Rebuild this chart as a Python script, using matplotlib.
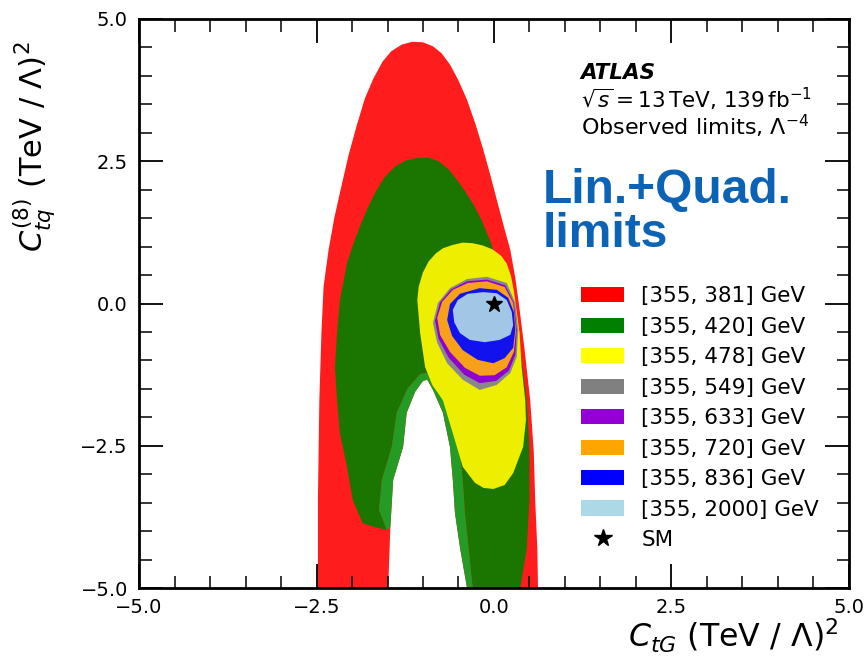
import matplotlib
matplotlib.use("Agg")
import matplotlib.pyplot as plt
from matplotlib.patches import Polygon, Patch
from matplotlib.lines import Line2D
import numpy as np

# ---------------- data (in (TeV/Lambda)^2 units) ----------------
labels = ["[355, 381] GeV", "[355, 420] GeV", "[355, 478] GeV", "[355, 549] GeV",
          "[355, 633] GeV", "[355, 720] GeV", "[355, 836] GeV", "[355, 2000] GeV"]
colors = ["#ff1c1c", "#1a7600", "#eeee00", "#888888", "#9000d0", "#f7a01a", "#1212ee", "#a2c6e6"]
legend_colors = ["#ff0000", "#007f00", "#ffff00", "#808080", "#9400d3", "#ffa500", "#0000ff", "#add8e6"]
lightgreen_color = "#249b24"

# red region: outer boundary
red_outer_x = [-2.48, -2.48, -2.46, -2.43, -2.40, -2.33, -2.25, -2.16, -2.05, -1.94, -1.82, -1.70,
               -1.57, -1.45, -1.30, -1.15, -1.00, -0.86, -0.74, -0.62, -0.50, -0.38, -0.26, -0.15,
               -0.05, 0.04, 0.14, 0.23, 0.30, 0.35, 0.43, 0.51, 0.56, 0.58, 0.61, 0.62]
red_outer_y = [-5.0, -3.45, -1.70, -0.50, 0.30, 0.94, 1.50, 2.00, 2.60, 3.10, 3.60, 3.95,
               4.25, 4.43, 4.55, 4.60, 4.59, 4.52, 4.40, 4.20, 3.92, 3.58, 3.15, 2.70,
               2.25, 1.82, 1.35, 0.94, 0.45, 0.0, -0.80, -1.70, -2.60, -3.45, -4.30, -5.0]
# red region: inner hole (white), from bottom-right over apex to bottom-left
red_hole_x = [-0.38, -0.48, -0.55, -0.58, -0.62, -0.72, -0.86, -0.94, -1.00, -1.11, -1.23, -1.28, -1.42, -1.46, -1.49]
red_hole_y = [-5.0, -4.28, -3.68, -3.10, -2.52, -1.92, -1.52, -1.34, -1.36, -1.55, -1.92, -2.52, -3.10, -3.93, -5.0]

# green region: outer boundary (left leg bottom -> top -> right leg bottom)
green_outer_x = [-1.51, -1.68, -1.85, -1.99, -2.07, -2.17, -2.21, -2.24, -2.21, -2.17, -2.07, -1.98,
                 -1.89, -1.78, -1.66, -1.54, -1.40, -1.25, -1.08, -0.92, -0.78, -0.64, -0.52, -0.40,
                 -0.28, -0.17, -0.06, 0.03, 0.12, 0.23, 0.37, 0.46, 0.50, 0.50, 0.46, 0.40, 0.37]
green_outer_y = [-3.98, -3.93, -3.86, -3.45, -2.87, -2.28, -1.70, -1.12, -0.52, 0.06, 0.71, 1.05,
                 1.35, 1.68, 1.98, 2.22, 2.40, 2.51, 2.56, 2.56, 2.50, 2.36, 2.17, 1.96,
                 1.72, 1.45, 1.12, 0.80, 0.45, 0.06, -0.82, -1.70, -2.57, -3.45, -4.33, -4.77, -5.0]
# green region: inner edge (bottom-right over apex to left-leg bottom)
green_hole_x = [-0.30, -0.36, -0.41, -0.44, -0.49, -0.60, -0.78, -0.94, -1.04, -1.22, -1.37, -1.44, -1.58, -1.62, -1.51]
green_hole_y = [-5.0, -4.28, -3.68, -3.10, -2.52, -1.92, -1.45, -1.22, -1.24, -1.50, -1.92, -2.52, -3.10, -3.63, -3.98]

yellow_x = [-0.58, -0.44, -0.30, -0.16, -0.02, 0.10, 0.18, 0.24, 0.28, 0.31, 0.36, 0.39, 0.44, 0.45,
            0.41, 0.27, 0.15, -0.01, -0.15, -0.27, -0.44, -0.58, -0.72, -0.87, -0.97, -1.04, -1.08,
            -1.06, -1.00, -0.92, -0.82, -0.72]
yellow_y = [1.03, 1.07, 1.06, 1.02, 0.95, 0.84, 0.70, 0.48, 0.22, -0.05, -0.52, -1.12, -1.70, -2.05,
            -2.52, -2.98, -3.19, -3.26, -3.24, -3.15, -2.87, -2.28, -1.70, -1.43, -1.12, -0.52, 0.06,
            0.30, 0.55, 0.74, 0.88, 0.97]

gray_x = [-0.10, 0.18, 0.30, 0.34, 0.32, 0.23, 0.04, -0.20, -0.44, -0.66, -0.80, -0.86, -0.79, -0.62, -0.38]
gray_y = [0.47, 0.36, 0.01, -0.47, -0.94, -1.22, -1.43, -1.52, -1.34, -1.05, -0.69, -0.34, 0.01, 0.27, 0.43]

purple_x = [-0.10, 0.16, 0.28, 0.32, 0.30, 0.21, 0.03, -0.20, -0.42, -0.64, -0.78, -0.83, -0.76, -0.60, -0.38]
purple_y = [0.42, 0.32, 0.01, -0.47, -0.90, -1.18, -1.36, -1.40, -1.25, -0.95, -0.62, -0.30, 0.02, 0.25, 0.39]

orange_x = [-0.10, 0.15, 0.27, 0.31, 0.28, 0.18, 0.01, -0.20, -0.41, -0.62, -0.76, -0.80, -0.73, -0.58, -0.37]
orange_y = [0.39, 0.29, 0.01, -0.47, -0.85, -1.12, -1.26, -1.27, -1.13, -0.85, -0.55, -0.25, 0.03, 0.24, 0.36]

blue_x = [-0.20, 0.04, 0.20, 0.28, 0.30, 0.27, 0.15, -0.01, -0.23, -0.44, -0.59, -0.66, -0.62, -0.48]
blue_y = [0.27, 0.24, 0.10, -0.15, -0.47, -0.78, -0.96, -1.05, -0.99, -0.82, -0.57, -0.29, -0.01, 0.17]

lightblue_x = [-0.15, 0.04, 0.18, 0.25, 0.27, 0.23, 0.08, -0.13, -0.34, -0.48, -0.56, -0.58, -0.51, -0.37]
lightblue_y = [0.20, 0.18, 0.06, -0.15, -0.38, -0.55, -0.64, -0.68, -0.64, -0.52, -0.33, -0.11, 0.06, 0.17]

sm_x = [0.0]
sm_y = [0.0]

xticks = [-5.0, -2.5, 0.0, 2.5, 5.0]
yticks = [-5.0, -2.5, 0.0, 2.5, 5.0]

# ---------------- figure ----------------
fig = plt.figure(figsize=(8.67, 6.66), dpi=100)
ax = fig.add_axes([139/867, 1-588/666, 710/867, 569/666])

def poly(xs, ys, color, z):
    ax.add_patch(Polygon(np.column_stack([xs, ys]), closed=True, facecolor=color,
                         edgecolor="none", zorder=z))

# red: outer boundary + notch (hole) traced as one polygon
poly(red_outer_x + red_hole_x, red_outer_y + red_hole_y, colors[0], 1)
# green: outer boundary + its inner edge
poly(green_outer_x + green_hole_x, green_outer_y + green_hole_y, colors[1], 2)
# lighter green band between green inner edge and white hole
poly(green_hole_x + red_hole_x[-2::-1], green_hole_y + red_hole_y[-2::-1], lightgreen_color, 2)
poly(yellow_x, yellow_y, colors[2], 3)
poly(gray_x, gray_y, colors[3], 4)
poly(purple_x, purple_y, colors[4], 5)
poly(orange_x, orange_y, colors[5], 6)
poly(blue_x, blue_y, colors[6], 7)
poly(lightblue_x, lightblue_y, colors[7], 8)
ax.plot(sm_x, sm_y, marker="*", color="black", markersize=12, linestyle="none", zorder=10)

ax.set_xlim(-5, 5)
ax.set_ylim(-5, 5)
ax.set_xticks(xticks)
ax.set_yticks(yticks)
ax.set_xticks(np.arange(-5, 5.01, 0.5), minor=True)
ax.set_yticks(np.arange(-5, 5.01, 0.5), minor=True)
ax.tick_params(which="both", direction="in", top=True, right=True, labelsize=14)
ax.tick_params(which="major", length=17, width=1.3)
ax.tick_params(which="minor", length=9, width=1.1)
ax.tick_params(axis="x", pad=7)
ax.tick_params(axis="y", pad=8)
for s in ax.spines.values():
    s.set_linewidth(2)

ax.set_xlabel(r"$C_{tG}$ (TeV / $\Lambda$)$^2$", fontsize=22.8, loc="right")
ax.xaxis.set_label_coords(0.985, -0.050)
ax.set_ylabel(r"$C_{tq}^{(8)}$ (TeV / $\Lambda$)$^2$", fontsize=22)
ax.yaxis.set_label_coords(-0.115, 0.775)

# annotations
ax.text(0.622, 0.895, "ATLAS", transform=ax.transAxes, fontsize=15.5, fontweight="bold",
        fontstyle="italic", va="baseline")
ax.text(0.622, 0.843, r"$\sqrt{s} = 13\,\mathrm{TeV}$, $139\,\mathrm{fb}^{-1}$", transform=ax.transAxes,
        fontsize=15.5, va="baseline")
ax.text(0.622, 0.795, r"Observed limits, $\Lambda^{-4}$", transform=ax.transAxes,
        fontsize=16, va="baseline")
ax.text(0.568, 0.676, "Lin.+Quad.", transform=ax.transAxes, fontsize=34.5, fontweight="bold",
        family="Liberation Sans", color="#0b63b5", va="baseline")
ax.text(0.568, 0.600, "limits", transform=ax.transAxes, fontsize=34.5, fontweight="bold",
        family="Liberation Sans", color="#0b63b5", va="baseline")

handles = [Patch(facecolor=c, edgecolor="none") for c in legend_colors]
handles.append(Line2D([], [], marker="*", color="black", linestyle="none", markersize=13))
ax.legend(handles, labels + ["SM"], loc="upper left", bbox_to_anchor=(0.6225, 0.530),
          frameon=False, fontsize=15.5, borderpad=0, borderaxespad=0, labelspacing=0.485,
          handlelength=2.0, handleheight=0.7, handletextpad=0.8)

fig.savefig("out.png", dpi=100)
